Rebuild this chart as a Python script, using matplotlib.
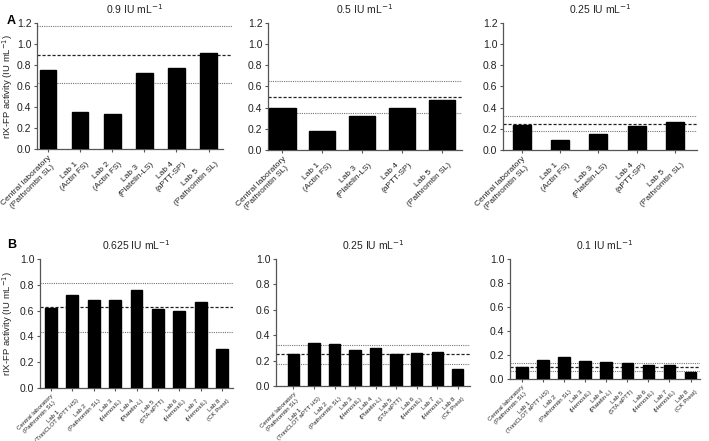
import matplotlib
matplotlib.use("Agg")
import matplotlib.pyplot as plt
import numpy as np

plt.rcParams['font.family'] = ['Liberation Sans', 'DejaVu Sans']

# ---- data ----
labels_A1 = ["Central laboratory\n(Pathromtin SL)", "Lab 1\n(Actin FS)", "Lab 2\n(Actin FS)",
             "Lab 3\n(Platelin-LS)", "Lab 4\n(aPTT-SP)", "Lab 5\n(Pathromtin SL)"]
values_A1 = [0.75, 0.35, 0.33, 0.72, 0.77, 0.91]
target_A1 = 0.9

labels_A2 = ["Central laboratory\n(Pathromtin SL)", "Lab 1\n(Actin FS)", "Lab 3\n(Platelin-LS)",
             "Lab 4\n(aPTT-SP)", "Lab 5\n(Pathromtin SL)"]
values_A2 = [0.40, 0.18, 0.32, 0.40, 0.47]
target_A2 = 0.5

labels_A3 = labels_A2
values_A3 = [0.24, 0.09, 0.15, 0.23, 0.26]
target_A3 = 0.25

labels_B = ["Central laboratory\n(Pathromtin SL)", "Lab 1\n(TriniCLOT aPTT HS)", "Lab 2\n(Pathromtin SL)",
            "Lab 3\n(HemosIL)", "Lab 4\n(Platelin-L)", "Lab 5\n(STA-aPTT)", "Lab 6\n(HemosIL)",
            "Lab 7\n(HemosIL)", "Lab 8\n(CK Prest)"]
values_B1 = [0.62, 0.72, 0.68, 0.68, 0.76, 0.61, 0.60, 0.67, 0.30]
target_B1 = 0.625
values_B2 = [0.25, 0.34, 0.33, 0.28, 0.30, 0.25, 0.26, 0.27, 0.13]
target_B2 = 0.25
values_B3 = [0.10, 0.16, 0.18, 0.15, 0.14, 0.13, 0.12, 0.12, 0.06]
target_B3 = 0.1

titles = ["0.9 IU mL$^{-1}$", "0.5 IU mL$^{-1}$", "0.25 IU mL$^{-1}$",
          "0.625 IU mL$^{-1}$", "0.25 IU mL$^{-1}$", "0.1 IU mL$^{-1}$"]
ylabel = "rIX-FP activity (IU mL$^{-1}$)"

W, H = 709, 441
fig = plt.figure(figsize=(W / 100, H / 100), dpi=100)

def rect(x0, x1, ytop, ybot):
    return [x0 / W, 1 - ybot / H, (x1 - x0) / W, (ybot - ytop) / H]

panels = [
    # labels, values, target, title, rect, ymax, step, barw, lpad, rpad, spine_r, xfs
    (labels_A1, values_A1, target_A1, titles[0], rect(37, 232, 23, 149), 1.2, 0.2, 0.52, 0.34, 0.73, 0.45, 6.0),
    (labels_A2, values_A2, target_A2, titles[1], rect(268, 462, 23, 150), 1.2, 0.2, 0.66, 0.36, 0.5, 0.5, 6.0),
    (labels_A3, values_A3, target_A3, titles[2], rect(503, 697, 23, 150), 1.2, 0.2, 0.47, 0.5, 0.58, 0.58, 6.0),
    (labels_B, values_B1, target_B1, titles[3], rect(40, 233, 259, 388), 1.0, 0.2, 0.55, 0.5, 0.5, 0.5, 4.4),
    (labels_B, values_B2, target_B2, titles[4], rect(276, 470, 259, 386), 1.0, 0.2, 0.55, 0.85, 0.6, 0.6, 4.4),
    (labels_B, values_B3, target_B3, titles[5], rect(510, 700, 259, 379), 1.0, 0.2, 0.55, 0.57, 0.45, 0.45, 4.4),
]

axes = []
for i, (labs, vals, tgt, ttl, r, ymax, step, bw, lpad, rpad, sr, xfs) in enumerate(panels):
    ax = fig.add_axes(r)
    axes.append(ax)
    n = len(vals)
    x = np.arange(n)
    ax.bar(x, vals, width=bw, color='black', edgecolor='black', zorder=3)
    ax.axhline(tgt, color='#222222', lw=0.9, ls=(0, (2.5, 1.5)), zorder=2)
    ax.axhline(tgt * 1.3, color='#777777', lw=0.8, ls=(0, (1, 1)), zorder=2)
    ax.axhline(tgt * 0.7, color='#777777', lw=0.8, ls=(0, (1, 1)), zorder=2)
    ax.set_xlim(-lpad, n - 1 + rpad)
    ax.set_ylim(0, ymax)
    yt = np.arange(0, ymax + 1e-9, step)
    ax.set_yticks(yt)
    ax.set_yticklabels([f"{v:.1f}" for v in yt], fontsize=7.5, color='#222222')
    ax.set_xticks(x)
    ax.set_xticklabels(labs, rotation=45, ha='right', rotation_mode='anchor',
                       fontsize=xfs, color='#222222', linespacing=1.25, multialignment='center')
    for s in ['top', 'right']:
        ax.spines[s].set_visible(False)
    for s in ['left', 'bottom']:
        ax.spines[s].set_color('#555555')
        ax.spines[s].set_linewidth(0.9)
    ax.spines['bottom'].set_bounds(-lpad, n - 1 + sr)
    ax.tick_params(axis='y', direction='out', length=2.5, width=0.8, color='#555555', pad=1.5)
    ax.tick_params(axis='x', direction='out', length=2.5, width=0.8, color='#555555', pad=1.5)
    ax.set_title(ttl, fontsize=7.5, pad=6.5, color='#222222')

for ax, xpix in ((axes[0], 37), (axes[3], 40)):
    ax.set_ylabel(ylabel, fontsize=6.8, color='#222222')
    bb = ax.get_position()
    ax.yaxis.set_label_coords((15 - xpix) / (bb.width * W), 0.5)

fig.text(7 / W, 1 - 21 / H, "A", fontsize=9, fontweight='bold', va='center', ha='left')
fig.text(7 / W, 1 - 245 / H, "B", fontsize=9, fontweight='bold', va='center', ha='left')

fig.savefig("out.png", dpi=100, facecolor='white')
